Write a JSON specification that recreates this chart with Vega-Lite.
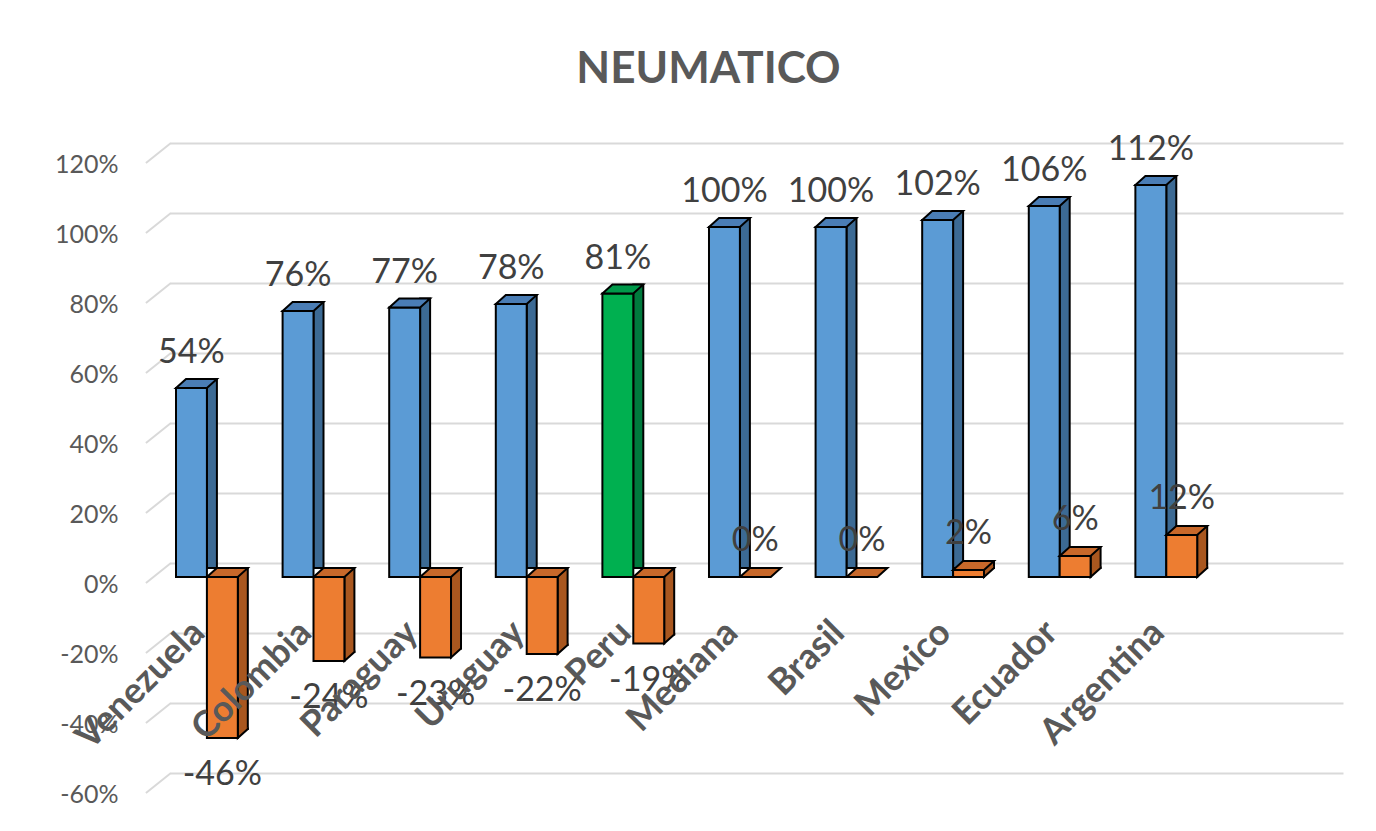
{
  "$schema": "https://vega.github.io/schema/vega-lite/v6.json",
  "autosize": {"type": "none"},
  "padding": {"left": 170, "top": 143, "right": 33, "bottom": 58},
  "width": 1173,
  "height": 630,
  "background": "white",
  "title": {
    "text": "NEUMATICO",
    "font": "Lato",
    "fontSize": 44,
    "fontWeight": "bold",
    "color": "#595959",
    "anchor": "middle",
    "frame": "group",
    "baseline": "alphabetic",
    "offset": 6,
    "dx": -48
  },
  "config": {
    "view": {"stroke": null},
    "font": "Lato"
  },
  "data": {
    "values": [
      {"pais": "Venezuela", "indice": 0.54, "dif": -0.46},
      {"pais": "Colombia", "indice": 0.76, "dif": -0.24},
      {"pais": "Paraguay", "indice": 0.77, "dif": -0.23},
      {"pais": "Uruguay", "indice": 0.78, "dif": -0.22},
      {"pais": "Peru", "indice": 0.81, "dif": -0.19},
      {"pais": "Mediana", "indice": 1.0, "dif": 0.0},
      {"pais": "Brasil", "indice": 1.0, "dif": 0.0},
      {"pais": "Mexico", "indice": 1.02, "dif": 0.02},
      {"pais": "Ecuador", "indice": 1.06, "dif": 0.06},
      {"pais": "Argentina", "indice": 1.12, "dif": 0.12}
    ]
  },
  "encoding": {
    "x": {
      "field": "pais",
      "type": "nominal",
      "sort": null,
      "axis": null,
      "scale": {"type": "band", "paddingInner": 0.42, "paddingOuter": 0.712, "align": 0.0395}
    }
  },
  "layer": [
    {
      "mark": {"type": "bar", "width": 10, "xOffset": 5, "yOffset": 5, "y2Offset": 5, "stroke": "#000000", "strokeWidth": 2},
      "encoding": {
        "y": {
          "field": "indice",
          "type": "quantitative",
          "scale": {"domain": [-0.6, 1.2], "nice": false},
          "axis": {
            "title": null,
            "values": [-0.6, -0.4, -0.2, 0, 0.2, 0.4, 0.6, 0.8, 1.0, 1.2],
            "format": ".0%",
            "labelExpr": "replace(datum.label, '\u2212', '-')",
            "grid": true,
            "gridColor": "#d9d9d9",
            "gridWidth": 2,
            "domain": false,
            "ticks": false,
            "tickSize": 0,
            "labelPadding": 52,
            "labelOffset": 21,
            "labelFont": "Lato",
            "labelFontSize": 25,
            "labelColor": "#595959"
          }
        },
        "y2": {"datum": 0},
        "fill": {"condition": {"test": "datum.pais === 'Peru'", "value": "#007A3D"}, "value": "#3C6A94"}
      }
    },
    {
      "data": {
        "values": [
          {"pais": "Venezuela", "v": -0.6}, {"pais": "Venezuela", "v": -0.4},
          {"pais": "Venezuela", "v": -0.2}, {"pais": "Venezuela", "v": 0},
          {"pais": "Venezuela", "v": 0.2}, {"pais": "Venezuela", "v": 0.4},
          {"pais": "Venezuela", "v": 0.6}, {"pais": "Venezuela", "v": 0.8},
          {"pais": "Venezuela", "v": 1.0}, {"pais": "Venezuela", "v": 1.2}
        ]
      },
      "mark": {"type": "point", "shape": "M-36,0 L-61,20", "size": 4, "filled": false, "stroke": "#d9d9d9", "strokeWidth": 2, "opacity": 1},
      "encoding": {
        "y": {"field": "v", "type": "quantitative"}
      }
    },
    {
      "mark": {"type": "bar", "width": {"band": 0.5}, "xOffset": -15.45, "yOffset": 14, "y2Offset": 14, "stroke": "#000000", "strokeWidth": 2},
      "encoding": {
        "y": {"field": "indice", "type": "quantitative"},
        "y2": {"datum": 0},
        "fill": {"condition": {"test": "datum.pais === 'Peru'", "value": "#00B050"}, "value": "#5B9BD5"}
      }
    },
    {
      "mark": {"type": "point", "shape": "M-30.9,0 L0,0 L10,-9 L-20.9,-9 Z", "size": 4, "filled": true, "stroke": "#000000", "strokeWidth": 2, "opacity": 1, "yOffset": 14},
      "encoding": {
        "y": {"field": "indice", "type": "quantitative"},
        "fill": {"condition": {"test": "datum.pais === 'Peru'", "value": "#00994A"}, "value": "#4A7DB5"}
      }
    },
    {
      "mark": {"type": "bar", "width": 10, "xOffset": 35.9, "yOffset": 5, "y2Offset": 5, "stroke": "#000000", "strokeWidth": 2, "fill": "#A9571F"},
      "encoding": {
        "y": {"field": "dif", "type": "quantitative"},
        "y2": {"datum": 0}
      }
    },
    {
      "transform": [{"filter": "datum.dif < 0"}],
      "mark": {"type": "point", "shape": "M40.9,-10.5 L40.9,-9 L30.9,0 L30.9,-10.5", "size": 4, "filled": true, "fill": "#A9571F", "stroke": "#000000", "strokeWidth": 2, "opacity": 1, "yOffset": 14},
      "encoding": {
        "y": {"field": "dif", "type": "quantitative"}
      }
    },
    {
      "transform": [{"filter": "datum.dif > 0"}],
      "mark": {"type": "point", "shape": "M40.9,-10.5 L40.9,-9 L30.9,0 L30.9,-10.5", "size": 4, "filled": true, "fill": "#A9571F", "stroke": "#000000", "strokeWidth": 2, "opacity": 1, "yOffset": 14},
      "encoding": {
        "y": {"datum": 0}
      }
    },
    {
      "mark": {"type": "bar", "width": {"band": 0.5}, "xOffset": 15.45, "yOffset": 14, "y2Offset": 14, "stroke": "#000000", "strokeWidth": 2, "fill": "#ED7D31"},
      "encoding": {
        "y": {"field": "dif", "type": "quantitative"},
        "y2": {"datum": 0}
      }
    },
    {
      "transform": [{"filter": "datum.dif >= 0"}],
      "mark": {"type": "point", "shape": "M0,0 L30.9,0 L40.9,-9 L10,-9 Z", "size": 4, "filled": true, "fill": "#C8682A", "stroke": "#000000", "strokeWidth": 2, "opacity": 1, "yOffset": 14},
      "encoding": {
        "y": {"field": "dif", "type": "quantitative"}
      }
    },
    {
      "transform": [{"filter": "datum.dif < 0"}],
      "mark": {"type": "point", "shape": "M0,0 L30.9,0 L40.9,-9 L10,-9 Z", "size": 4, "filled": true, "fill": "#C8682A", "stroke": "#000000", "strokeWidth": 2, "opacity": 1, "yOffset": 14},
      "encoding": {
        "y": {"datum": 0}
      }
    },
    {
      "transform": [{"calculate": "replace(format(datum.indice, '.0%'), '\u2212', '-')", "as": "etiqueta"}],
      "mark": {"type": "text", "font": "Lato", "fontSize": 34, "color": "#404040", "baseline": "middle", "align": "center", "xOffset": -15.45, "yOffset": -21},
      "encoding": {
        "y": {"field": "indice", "type": "quantitative"},
        "text": {"field": "etiqueta", "type": "nominal"}
      }
    },
    {
      "transform": [{"filter": "datum.dif >= 0"}, {"calculate": "replace(format(datum.dif, '.0%'), '\u2212', '-')", "as": "etiqueta"}],
      "mark": {"type": "text", "font": "Lato", "fontSize": 34, "color": "#404040", "baseline": "middle", "align": "center", "xOffset": 15.45, "yOffset": -22},
      "encoding": {
        "y": {"field": "dif", "type": "quantitative"},
        "text": {"field": "etiqueta", "type": "nominal"}
      }
    },
    {
      "transform": [{"filter": "datum.dif < 0"}, {"calculate": "replace(format(datum.dif, '.0%'), '\u2212', '-')", "as": "etiqueta"}],
      "mark": {"type": "text", "font": "Lato", "fontSize": 34, "color": "#404040", "baseline": "middle", "align": "center", "xOffset": 15.45, "yOffset": 51},
      "encoding": {
        "y": {"field": "dif", "type": "quantitative"},
        "text": {"field": "etiqueta", "type": "nominal"}
      }
    },
    {
      "mark": {"type": "text", "font": "Lato", "fontSize": 36, "fontWeight": "bold", "color": "#595959", "baseline": "top", "align": "right", "angle": -45, "xOffset": -20, "yOffset": 52},
      "encoding": {
        "y": {"datum": 0},
        "text": {"field": "pais", "type": "nominal"}
      }
    }
  ]
}
